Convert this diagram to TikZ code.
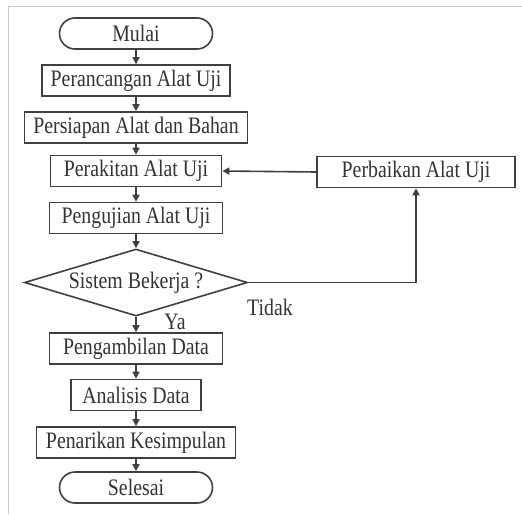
\documentclass[tikz,border=0pt]{standalone}
\usepackage{fontspec}
\setmainfont[FakeStretch=0.84]{Liberation Serif}
\usetikzlibrary{arrows.meta,shapes.geometric,shapes.misc}

\begin{document}
\begin{tikzpicture}[x=0.5pt,y=-0.5pt,font=\fontsize{11.8}{14}\selectfont]
	\tikzstyle{box}=[rectangle,draw=black!75,line width=0.8pt,text=black!80,inner sep=0pt,minimum height=15.5pt]
	\tikzstyle{term}=[rounded rectangle,draw=black!75,line width=0.8pt,text=black!80,inner sep=0pt,minimum height=15.5pt,minimum width=76.5pt]
	\tikzstyle{decide}=[diamond,draw=black!75,line width=0.8pt,text=black!80,inner sep=0pt,aspect=3.3,minimum width=111.5pt,minimum height=33.5pt]
	\tikzstyle{flow}=[draw=black!75,line width=0.8pt,-{Triangle[length=3.5pt,width=3.5pt]}]
	\tikzstyle{label}=[text=black!80,inner sep=0pt]
	\useasboundingbox (0,0) rectangle (522,514);
	\draw [black!20,line width=0.5pt] (522,6) -- (8,6) -- (8,514);
	\node (mulai)     at (136,33.5)  [term] {Mulai};
	\node (rancang)   at (136,80.5)  [box,minimum width=94pt] {Perancangan Alat Uji};
	\node (siap)      at (136,127.5) [box,minimum width=111.5pt] {Persiapan Alat dan Bahan};
	\node (rakit)     at (136,171)   [box,minimum width=85.5pt] {Perakitan Alat Uji};
	\node (uji)       at (136,218)   [box,minimum width=86.5pt] {Pengujian Alat Uji};
	\node (cek)       at (136,282.5) [decide] {Sistem Bekerja ?};
	\node (ambil)     at (136,348.5) [box,minimum width=86.5pt] {Pengambilan Data};
	\node (analisis)  at (136,395)   [box,minimum width=65pt] {Analisis Data};
	\node (tarik)     at (136,442.5) [box,minimum width=99.5pt] {Penarikan Kesimpulan};
	\node (selesai)   at (136,487.5) [term] {Selesai};
	\node (perbaikan) at (416,172)   [box,minimum width=99pt] {Perbaikan Alat Uji};
	\node (ya)        at (175,322)   [label] {Ya};
	\node (tidak)     at (270,307)   [label] {Tidak};
	\draw [flow] (mulai)    -- (rancang);
	\draw [flow] (rancang)  -- (siap);
	\draw [flow] (siap)     -- (rakit);
	\draw [flow] (rakit)    -- (uji);
	\draw [flow] (uji)      -- (cek);
	\draw [flow] (cek)      -- (ambil);
	\draw [flow] (ambil)    -- (analisis);
	\draw [flow] (analisis) -- (tarik);
	\draw [flow] (tarik)    -- (selesai);
	\draw [flow] (cek.east) -| (perbaikan.south);
	\draw [flow] (perbaikan.west) -- (rakit.east);
\end{tikzpicture}
\end{document}
